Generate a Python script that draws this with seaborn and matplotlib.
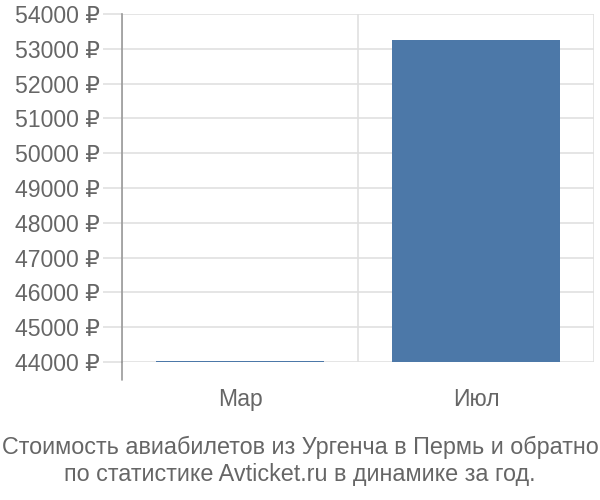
import matplotlib
matplotlib.use("Agg")
import matplotlib.pyplot as plt
import seaborn as sns
import pandas as pd

months = ["Мар", "Июл"]
prices = [44040, 53250]
y_ticks = list(range(44000, 54001, 1000))
y_labels = [f"{v} ₽" for v in y_ticks]
title = "Стоимость авиабилетов из Ургенча в Пермь и обратно\nпо статистике Avticket.ru в динамике за год."

sns.set_theme(style="white")
plt.rcParams['font.family'] = ['Liberation Sans', 'DejaVu Sans']

df = pd.DataFrame({"month": months, "price": prices})

fig = plt.figure(figsize=(6, 5), dpi=100)
ax = fig.add_axes([122/600, 1-362/500, (594-122)/600, (362-14)/500])

sns.barplot(data=df, x="month", y="price", color="#4c78a8", width=0.715,
            saturation=1, ax=ax, zorder=3, linewidth=0, edgecolor="none")

ax.set_ylim(44000, 54000)
ax.set_xlim(-0.5, 1.5)
ax.set_yticks(y_ticks)
ax.set_yticklabels(y_labels)
ax.set_xlabel("")
ax.set_ylabel("")

grid_c = "#e0e0e0"
ax.yaxis.grid(True, color=grid_c, linewidth=1.2, zorder=0)
ax.set_axisbelow(True)
# category boundary lines
ax.set_xticks([-0.5, 0.5, 1.5], minor=True)
ax.xaxis.grid(True, which="minor", color=grid_c, linewidth=1.2, zorder=0)
ax.tick_params(axis="x", which="minor", length=13, color=grid_c, width=1.2)
ax.tick_params(axis="x", which="major", length=0, labelsize=16.5, labelcolor="#666666", pad=19)
ax.tick_params(axis="y", which="major", length=14, color=grid_c, width=1.2,
               labelsize=16.6, labelcolor="#666666", pad=2, left=True)

for s in ["top", "right", "bottom"]:
    ax.spines[s].set_visible(False)
ax.spines["left"].set_color("#999999")
ax.spines["left"].set_linewidth(1.2)
ax.spines["left"].set_zorder(4)

# extend left spine downwards like reference
ax.plot([-0.5, -0.5], [44000, 44000 - 18/34.8*1000], color="#999999", lw=1.2,
        clip_on=False, zorder=4)

fig.text(0.5, 1-461/500, title, ha="center", va="center", fontsize=16.8,
         color="#666666", linespacing=1.22)

fig.savefig("out.png", dpi=100)
